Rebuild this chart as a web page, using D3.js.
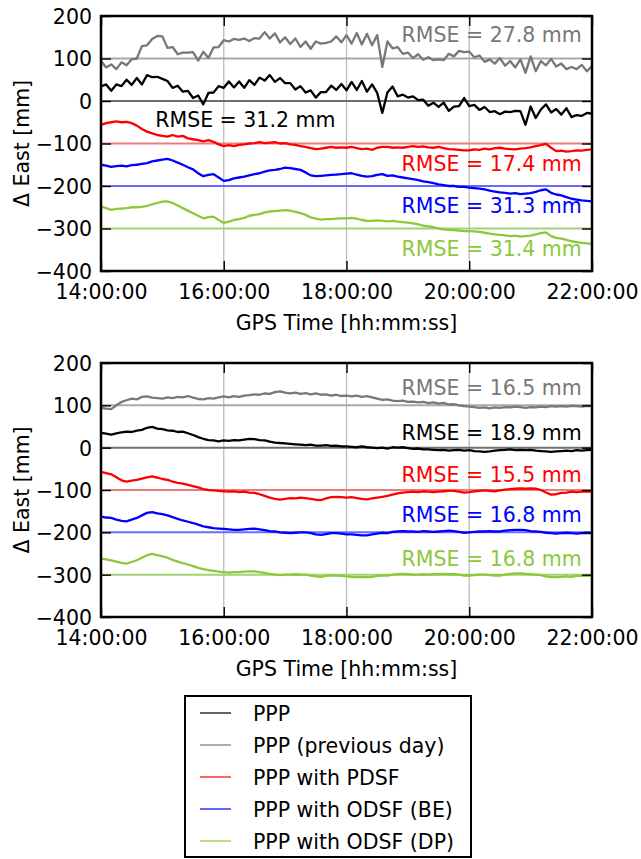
<!DOCTYPE html>
<html><head><meta charset="utf-8">
<script src="https://cdn.jsdelivr.net/npm/d3@7/dist/d3.min.js"></script>
<style>
html,body{margin:0;padding:0;background:#fff;}
svg text{font-family:"DejaVu Sans",sans-serif;}
</style></head>
<body><svg id="chart" width="641" height="859"></svg>
<script>
// ---- data ----
const stepMinutes = 5; // samples every 5 minutes from 14:00 to 22:00
const xTickLabels = ["14:00:00","16:00:00","18:00:00","20:00:00","22:00:00"];
const yTicks = [200,100,0,-100,-200,-300,-400];
const seriesNames = ["PPP","PPP (previous day)","PPP with PDSF","PPP with ODSF (BE)","PPP with ODSF (DP)"];
const referenceLevels = [0,100,-100,-200,-300];
const rmseTop = ["31.2","27.8","17.4","31.3","31.4"];
const rmseBottom = ["18.9","16.5","15.5","16.8","16.8"];

// top panel (values in mm, including plotting offsets)
const topPPP = [34,39,24,39,35,50,38,54,39,61,56,57,52,47,31,36,22,24,7,13,-8,19,20,35,31,46,32,46,31,49,38,55,48,61,45,54,42,42,27,35,20,25,8,21,21,36,26,40,25,45,26,47,22,39,19,-28,20,34,11,15,8,11,2,3,-11,-4,-14,-4,-23,-13,-12,7,-12,-9,-21,-14,-26,-24,-31,-25,-26,-23,-24,-56,-13,-40,-20,-8,-27,-19,-32,-17,-38,-33,-35,-28,-30];
const topPrev = [94,79,86,75,91,84,98,100,129,131,146,153,152,125,127,110,114,114,115,95,116,101,126,127,143,140,146,144,147,141,148,147,162,147,159,138,150,134,147,127,140,123,140,135,137,140,152,138,155,135,160,133,158,131,155,80,140,124,127,111,114,101,110,97,103,96,98,96,111,105,118,115,116,103,107,92,98,88,101,83,94,79,98,66,105,70,94,84,99,81,88,75,80,75,85,70,82];
const topPDSF = [-56,-52,-50,-48,-50,-49,-52,-58,-66,-72,-76,-80,-82,-84,-80,-84,-82,-88,-90,-92,-95,-92,-96,-102,-106,-104,-106,-103,-102,-100,-99,-97,-99,-98,-97,-100,-99,-102,-103,-106,-108,-111,-113,-112,-110,-108,-110,-109,-110,-108,-111,-113,-112,-115,-110,-108,-108,-110,-109,-110,-108,-106,-108,-107,-109,-110,-108,-111,-113,-114,-115,-116,-116,-114,-115,-112,-114,-111,-110,-112,-113,-114,-112,-111,-109,-106,-104,-101,-110,-118,-117,-119,-118,-116,-117,-115,-114];
const topBE = [-150,-152,-155,-153,-152,-154,-151,-150,-148,-146,-142,-140,-138,-136,-140,-145,-150,-156,-161,-170,-177,-174,-172,-180,-188,-186,-182,-180,-178,-175,-172,-170,-166,-163,-162,-160,-157,-158,-160,-162,-168,-175,-177,-176,-175,-174,-173,-172,-171,-170,-173,-176,-178,-177,-174,-172,-176,-175,-178,-180,-182,-184,-186,-189,-191,-193,-196,-198,-200,-200,-202,-202,-204,-205,-206,-208,-211,-213,-215,-216,-218,-217,-219,-218,-217,-214,-210,-208,-216,-220,-222,-226,-230,-232,-234,-235,-236];
const topDP = [-248,-252,-256,-254,-253,-252,-250,-250,-249,-247,-243,-240,-237,-236,-240,-246,-252,-258,-264,-270,-276,-273,-272,-280,-287,-284,-280,-278,-275,-270,-268,-266,-262,-260,-259,-258,-257,-258,-261,-264,-268,-274,-277,-279,-278,-278,-277,-276,-276,-275,-277,-280,-282,-282,-281,-282,-283,-282,-284,-285,-286,-288,-290,-293,-295,-297,-300,-302,-303,-304,-305,-306,-306,-307,-308,-310,-312,-314,-315,-316,-318,-317,-319,-318,-317,-314,-311,-309,-318,-322,-324,-327,-330,-332,-334,-335,-336];

// bottom panel
const botPPP = [35,33,31,34,36,38,37,40,42,47,49,45,44,41,40,37,38,34,30,25,21,18,17,15,17,16,18,17,19,21,20,18,17,14,12,11,10,9,8,7,6,7,5,5,6,4,5,3,3,2,1,3,1,0,-1,0,-2,1,0,1,-1,-3,-2,-4,-4,-5,-6,-5,-7,-6,-5,-7,-6,-8,-9,-10,-9,-7,-6,-5,-4,-6,-5,-6,-5,-7,-8,-9,-10,-9,-8,-7,-8,-6,-7,-6,-5];
const botPrev = [94,92,91,100,108,112,116,114,120,121,118,117,116,119,117,120,119,122,118,115,114,117,116,119,121,119,122,120,123,124,126,125,128,127,131,133,130,128,130,127,129,126,128,125,126,123,125,122,123,121,123,120,122,119,116,113,114,111,110,111,108,109,107,108,105,107,104,106,102,103,100,98,97,96,94,95,93,95,94,96,95,97,96,94,96,95,97,96,98,97,98,97,99,98,97,99,98];
const botPDSF = [-57,-60,-63,-70,-77,-80,-78,-76,-73,-70,-68,-71,-74,-76,-80,-83,-85,-88,-91,-94,-98,-100,-101,-102,-103,-104,-103,-105,-104,-106,-107,-110,-114,-118,-121,-123,-121,-119,-120,-118,-119,-121,-123,-124,-120,-117,-116,-117,-118,-117,-119,-121,-122,-120,-118,-116,-114,-111,-108,-106,-105,-104,-105,-103,-104,-105,-104,-103,-102,-102,-104,-106,-105,-103,-102,-101,-102,-103,-101,-99,-98,-97,-96,-97,-96,-97,-100,-106,-111,-110,-107,-106,-104,-105,-104,-103,-104];
const botBE = [-163,-165,-166,-170,-173,-174,-170,-166,-160,-154,-152,-155,-157,-160,-164,-168,-172,-175,-178,-182,-186,-188,-190,-191,-192,-193,-194,-194,-193,-192,-191,-193,-195,-197,-198,-200,-201,-202,-201,-200,-200,-202,-205,-206,-204,-202,-202,-203,-205,-205,-206,-207,-207,-205,-203,-201,-202,-199,-198,-197,-198,-198,-199,-197,-198,-199,-198,-197,-196,-197,-199,-201,-200,-199,-198,-198,-197,-198,-198,-196,-195,-194,-194,-195,-197,-198,-199,-201,-202,-203,-202,-201,-202,-203,-202,-201,-202];
const botDP = [-262,-264,-266,-269,-272,-274,-270,-266,-260,-254,-251,-254,-257,-260,-265,-269,-273,-276,-280,-284,-287,-289,-291,-293,-294,-295,-294,-294,-293,-292,-292,-294,-296,-298,-300,-301,-300,-300,-299,-300,-300,-302,-304,-305,-303,-302,-302,-303,-304,-305,-306,-306,-306,-305,-303,-302,-302,-300,-299,-298,-299,-300,-300,-299,-300,-299,-299,-298,-299,-299,-300,-302,-302,-301,-300,-300,-301,-302,-302,-300,-298,-297,-297,-298,-299,-300,-301,-304,-306,-306,-305,-304,-305,-303,-302,-303,-302];

// ---- styles ----
const colors = ["#000000","#787878","#ff0000","#0000ff","#8cc83a"];
const refColors = ["#6e6e6e","#a8a8a8","#e87d7d","#6a6aff","#a6cf76"];
const FONT = 20.5;

const svg = d3.select("#chart");

function drawPanel(top, bottom, series, rmse, labelPos) {
  const left = 101, right = 592;
  const x = d3.scaleLinear().domain([0, 480]).range([left, right]);
  const y = d3.scaleLinear().domain([-400, 200]).range([bottom, top]);
  const g = svg.append("g");

  // vertical grid lines
  [120, 240, 360].forEach(m => {
    g.append("line").attr("x1", x(m)).attr("x2", x(m)).attr("y1", top).attr("y2", bottom)
      .attr("stroke", "#bdbdbd").attr("stroke-width", 1.3);
  });
  // reference level lines
  referenceLevels.forEach((v, i) => {
    g.append("line").attr("x1", left).attr("x2", right).attr("y1", y(v)).attr("y2", y(v))
      .attr("stroke", refColors[i]).attr("stroke-width", 2);
  });

  const line = d3.line().x((d, i) => x(i * stepMinutes)).y(d => y(d));
  // draw order: prev day, PPP, PDSF, BE, DP
  [1, 0, 2, 3, 4].forEach(i => {
    g.append("path").datum(series[i]).attr("d", line).attr("fill", "none")
      .attr("stroke", colors[i]).attr("stroke-width", 2.3).attr("stroke-linejoin", "round");
  });

  // axes (ticks inward)
  const xTickVals = [0, 120, 240, 360, 480];
  const xAxisB = d3.axisBottom(x).tickValues(xTickVals).tickFormat((d, i) => xTickLabels[i]).tickSizeInner(-10).tickSizeOuter(0).tickPadding(13);
  const xAxisT = d3.axisTop(x).tickValues(xTickVals).tickFormat("").tickSizeInner(-10).tickSizeOuter(0);
  const yAxisL = d3.axisLeft(y).tickValues(yTicks).tickFormat(d => d < 0 ? "\u2212" + Math.abs(d) : d).tickSizeInner(-10).tickSizeOuter(0).tickPadding(9);
  const yAxisR = d3.axisRight(y).tickValues(yTicks).tickFormat("").tickSizeInner(-10).tickSizeOuter(0);

  const styleAxis = sel => {
    sel.select(".domain").remove();
    sel.selectAll(".tick line").attr("stroke", "#000").attr("stroke-width", 1.4);
    sel.selectAll("text").attr("font-size", FONT).attr("fill", "#000").attr("font-family", "DejaVu Sans");
  };
  g.append("g").attr("transform", `translate(0,${bottom})`).call(xAxisB).call(styleAxis);
  g.append("g").attr("transform", `translate(0,${top})`).call(xAxisT).call(styleAxis);
  const yl = g.append("g").attr("transform", `translate(${left},0)`).call(yAxisL).call(styleAxis);
  yl.selectAll("text").attr("dy", "0.36em");
  g.append("g").attr("transform", `translate(${right},0)`).call(yAxisR).call(styleAxis);

  // frame
  g.append("rect").attr("x", left).attr("y", top).attr("width", right - left).attr("height", bottom - top)
    .attr("fill", "none").attr("stroke", "#000").attr("stroke-width", 2.5);

  // RMSE labels
  labelPos.forEach((p, i) => {
    g.append("text").attr("x", x(p.m)).attr("y", y(p.v))
      .attr("text-anchor", p.anchor).attr("font-size", FONT).attr("fill", colors[i])
      .text("RMSE = " + rmse[i] + " mm");
  });

  // axis titles
  g.append("text").attr("x", (left + right) / 2).attr("y", bottom + 59).attr("text-anchor", "middle")
    .attr("font-size", FONT).text("GPS Time [hh:mm:ss]");
  g.append("text").attr("transform", `translate(29,${(top + bottom) / 2}) rotate(-90)`).attr("text-anchor", "middle")
    .attr("font-size", FONT).text("\u0394 East [mm]");
}

drawPanel(16, 271, [topPPP, topPrev, topPDSF, topBE, topDP], rmseTop, [
  {m: 53, v: -60.5, anchor: "start"},
  {m: 470, v: 139.5, anchor: "end"},
  {m: 470, v: -164, anchor: "end"},
  {m: 470, v: -263.5, anchor: "end"},
  {m: 470, v: -364.7, anchor: "end"}
]);
drawPanel(363, 617, [botPPP, botPrev, botPDSF, botBE, botDP], rmseBottom, [
  {m: 470, v: 18, anchor: "end"},
  {m: 470, v: 124.4, anchor: "end"},
  {m: 470, v: -80.4, anchor: "end"},
  {m: 470, v: -176.3, anchor: "end"},
  {m: 470, v: -278.8, anchor: "end"}
]);

// legend
const lg = svg.append("g");
lg.append("rect").attr("x", 185).attr("y", 696).attr("width", 286).attr("height", 161)
  .attr("fill", "#fff").attr("stroke", "#000").attr("stroke-width", 2);
seriesNames.forEach((name, i) => {
  const cy = 713 + i * 32;
  lg.append("line").attr("x1", 200).attr("x2", 231).attr("y1", cy).attr("y2", cy)
    .attr("stroke", colors[i]).attr("stroke-opacity", 0.6).attr("stroke-width", 2);
  lg.append("text").attr("x", 253).attr("y", cy + 7.5).attr("font-size", FONT).text(name);
});
</script>
</body></html>
